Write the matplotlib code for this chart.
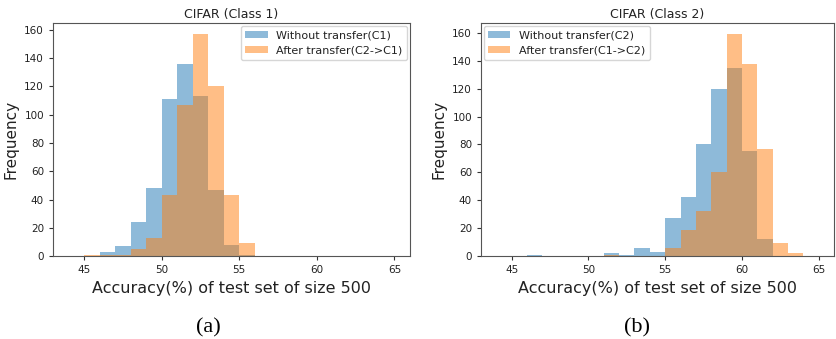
import matplotlib
matplotlib.use("Agg")
import matplotlib.pyplot as plt
import numpy as np

# Data: bin left edges (width 1) and counts
c1_bins = [45, 46, 47, 48, 49, 50, 51, 52, 53, 54, 55]
c1_without = [0, 3, 7, 24, 48, 111, 136, 113, 47, 8, 1]
c1_after = [1, 1, 1, 5, 13, 43, 107, 157, 120, 43, 9]

c2_bins = [46, 47, 48, 49, 50, 51, 52, 53, 54, 55, 56, 57, 58, 59, 60, 61, 62, 63]
c2_without = [1, 0, 0, 0, 0, 2, 1, 6, 3, 27, 42, 80, 120, 135, 75, 12, 0, 0]
c2_after = [0, 0, 0, 0, 0, 1, 0, 0, 0, 6, 19, 32, 60, 159, 138, 77, 9, 2]

titles = ["CIFAR (Class 1)", "CIFAR (Class 2)"]
labels_c1 = ["Without transfer(C1)", "After transfer(C2->C1)"]
labels_c2 = ["Without transfer(C2)", "After transfer(C1->C2)"]
xlabel = "Accuracy(%) of test set of size 500"
ylabel = "Frequency"
xticks = [45, 50, 55, 60, 65]
captions = ["(a)", "(b)"]

fig = plt.figure(figsize=(8.37, 3.39), dpi=100)
ax1 = fig.add_axes([0.0633, 0.2448, 0.4265, 0.687])
ax2 = fig.add_axes([0.5747, 0.2448, 0.4217, 0.687])

blue = "#1f77b4"
orange = "#ff7f0e"

panels = [
    (ax1, c1_bins, c1_without, c1_after, labels_c1, "upper right"),
    (ax2, c2_bins, c2_without, c2_after, labels_c2, "upper left"),
]
for i, (ax, bins, wo, af, labs, loc) in enumerate(panels):
    edges = np.append(bins, bins[-1] + 1)
    ax.hist(bins, bins=edges, weights=wo, color=blue, alpha=0.5, label=labs[0])
    ax.hist(bins, bins=edges, weights=af, color=orange, alpha=0.5, label=labs[1])
    ax.set_xlim(43, 66)
    ax.set_xticks(xticks)
    ax.set_yticks(range(0, 161, 20))
    ax.tick_params(labelsize=7.5, length=3, colors="#333333", labelcolor="#222222")
    for s in ax.spines.values():
        s.set_color("#555555")
        s.set_linewidth(0.8)
    ax.set_title(titles[i], fontsize=9, pad=4, color="#222222")
    ax.set_xlabel(xlabel, fontsize=11.5, color="#222222", labelpad=4)
    ax.set_ylabel(ylabel, fontsize=11, color="#222222", labelpad=4)
    leg = ax.legend(loc=loc, fontsize=8, framealpha=0.8, borderaxespad=0.25,
                    handlelength=2.0, labelspacing=0.45)
    for t in leg.get_texts():
        t.set_color("#222222")

fig.text(0.249, 0.032, captions[0], ha="center", va="center", fontsize=16,
         family="Liberation Serif")
fig.text(0.761, 0.032, captions[1], ha="center", va="center", fontsize=16,
         family="Liberation Serif")

fig.savefig("out.png", dpi=100)
